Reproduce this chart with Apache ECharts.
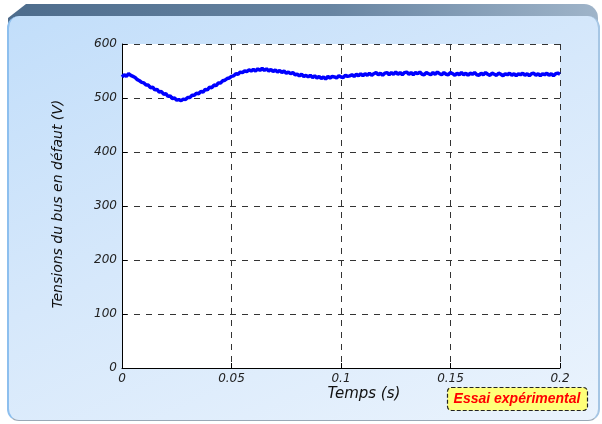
<!DOCTYPE html>
<html lang="fr">
<head>
    <meta charset="UTF-8">
    <title>Tensions du bus en défaut</title>
    <script src="https://cdn.jsdelivr.net/npm/echarts@6/dist/echarts.min.js"></script>
    <style>
        body { margin: 0; background: #fff; }
        #wrap { position: relative; width: 602px; height: 424px; overflow: hidden; }
        .rim {
            position: absolute; left: 8px; top: 4px; width: 590px; height: 40px;
            border-radius: 14px 14px 0 0;
            background: linear-gradient(90deg, #4d6c8c 0%, #6885a2 55%, #9fb4c9 100%);
            clip-path: polygon(18px 0, 100% 0, 100% 100%, 0 100%, 0 14px);
        }
        .card {
            position: absolute; left: 7px; top: 16px; width: 589px; height: 404px;
            border-radius: 12px;
            background: linear-gradient(155deg, #c2defa 0%, #d6e8fb 45%, #eaf3fd 100%);
            border-left: 2px solid #8dbfee;
            border-right: 2px solid #a6c6e4;
            border-bottom: 1px solid #9aa8b6;
        }
        #chart { position: absolute; left: 0; top: 0; width: 602px; height: 424px; }
    </style>
</head>
<body>
<div id="wrap">
    <div class="rim"></div>
    <div class="card"></div>
    <div id="chart"></div>
</div>
<script type="text/javascript">

    // temps (s), pas de 1 ms
    let step = 0.001;
    let tension = [
        539, 543, 540, 545, 542, 540, 538, 534, 532, 529, 528,
        524, 524, 519, 520, 515, 516, 511, 512, 507, 508,
        503, 504, 499, 500, 496, 497, 495, 498, 497, 501,
        501, 505, 505, 509, 508, 512, 511, 516, 515, 520,
        519, 524, 523, 528, 528, 532, 533, 536, 537, 540,
        541, 545, 544, 548, 547, 550, 549, 552, 550, 553,
        550, 554, 551, 555, 551, 554, 550, 553, 549, 552,
        548, 551, 547, 550, 546, 548, 545, 547, 543, 544,
        541, 544, 540, 542, 539, 542, 538, 541, 537, 540,
        536, 539, 535, 540, 537, 540, 539, 537, 541, 539,
        538, 542, 540, 541, 543, 540, 544, 541, 545, 541,
        545, 542, 546, 542, 545, 547, 543, 546, 542, 546,
        547, 543, 547, 544, 548, 544, 547, 543, 547, 548,
        544, 547, 543, 547, 545, 548, 544, 543, 547, 545,
        543, 547, 544, 548, 545, 543, 547, 544, 543, 547,
        545, 542, 546, 543, 547, 543, 546, 542, 546, 544,
        547, 543, 542, 546, 543, 547, 544, 542, 546, 544,
        542, 546, 544, 541, 545, 543, 546, 542, 545, 541,
        545, 543, 546, 542, 545, 541, 545, 546, 542, 545,
        541, 545, 543, 546, 542, 545, 541, 545, 546, 544
    ];
    let xTicks = ['0', '0.05', '0.1', '0.15', '0.2'];

    let points = [];
    for (let i = 0; i < tension.length; i++) {
        points.push([+(i * step).toFixed(3), tension[i]]);
    }

    let myChart = echarts.init(document.getElementById('chart'));

    let option = {
        animation: false,
        grid: {
            left: 122, right: 42, top: 44, bottom: 56,
            show: true, backgroundColor: '#fff', borderWidth: 0
        },
        xAxis: {
            type: 'value', min: 0, max: 0.2, interval: 0.05,
            axisLine: { lineStyle: { color: '#000', width: 1 } },
            axisTick: { inside: true, length: 5, lineStyle: { color: '#000' } },
            axisLabel: {
                color: '#222', fontStyle: 'italic', fontSize: 12, margin: 5,
                fontFamily: 'DejaVu Sans',
                formatter: function (v) {
                    return xTicks[Math.round(v / 0.05)];
                }
            },
            splitLine: { lineStyle: { color: '#333', type: [6, 6], width: 1 } }
        },
        yAxis: {
            type: 'value', min: 0, max: 600, interval: 100,
            axisLine: { show: true, lineStyle: { color: '#000', width: 1 } },
            axisTick: { show: true, inside: true, length: 5, lineStyle: { color: '#000' } },
            axisLabel: {
                color: '#222', fontStyle: 'italic', fontSize: 12, margin: 5,
                fontFamily: 'DejaVu Sans'
            },
            splitLine: { lineStyle: { color: '#333', type: [6, 6], width: 1 } }
        },
        graphic: [
            {
                type: 'text', position: [58, 204], rotation: Math.PI / 2,
                style: {
                    text: 'Tensions du bus en défaut (V)',
                    x: 0, y: 0, align: 'center', verticalAlign: 'middle',
                    fill: '#111', font: 'italic 14px "DejaVu Sans"'
                }
            },
            {
                type: 'text',
                style: {
                    text: 'Temps (s)', x: 364, y: 394,
                    align: 'center', verticalAlign: 'middle',
                    fill: '#111', font: 'italic 15px "DejaVu Sans"'
                }
            },
            {
                type: 'rect',
                shape: { x: 447.5, y: 387.5, width: 140, height: 23, r: 4 },
                style: { fill: '#ffff78', stroke: '#222', lineWidth: 1.2, lineDash: [4, 2] }
            },
            {
                type: 'text',
                style: {
                    text: 'Essai expérimental', x: 517, y: 399.5,
                    align: 'center', verticalAlign: 'middle',
                    fill: '#ff0000', font: 'italic bold 14px "Liberation Sans"'
                }
            }
        ],
        series: [
            {
                type: 'line', data: points, showSymbol: false,
                lineStyle: { color: '#0000ff', width: 3.5 },
                itemStyle: { color: '#0000ff' }
            }
        ]
    };
    myChart.setOption(option);

</script>
</body>
</html>
